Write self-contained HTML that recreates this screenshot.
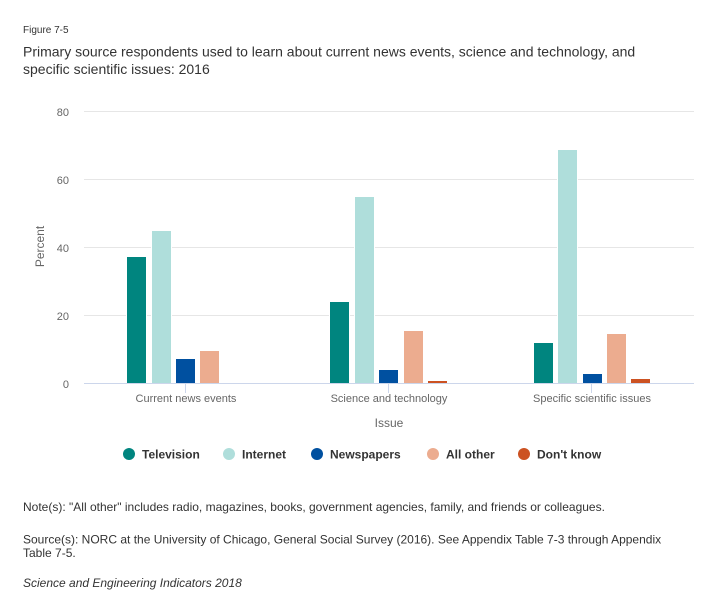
<!DOCTYPE html>
<html>
<head>
<meta charset="utf-8">
<style>
html,body{margin:0;padding:0;background:#fff;}
body{width:724px;height:616px;overflow:hidden;}
svg{display:block;font-family:"Liberation Sans",Arial,sans-serif;}
</style>
</head>
<body>
<svg width="724" height="616" viewBox="0 0 724 616" xmlns="http://www.w3.org/2000/svg">
  <rect width="724" height="616" fill="#fff"/>
  <text x="23" y="33" font-size="10" fill="#333">Figure 7-5</text>
  <text x="23" y="56.5" font-size="14" fill="#333">Primary source respondents used to learn about current news events, science and technology, and</text>
  <text x="23" y="74" font-size="14" fill="#333">specific scientific issues: 2016</text>

  <!-- gridlines -->
  <g stroke="#e6e6e6" stroke-width="1">
    <line x1="84" y1="111.5" x2="694" y2="111.5"/>
    <line x1="84" y1="179.5" x2="694" y2="179.5"/>
    <line x1="84" y1="247.5" x2="694" y2="247.5"/>
    <line x1="84" y1="315.5" x2="694" y2="315.5"/>
  </g>

  <!-- y labels -->
  <g font-size="11" fill="#666" text-anchor="end">
    <text x="69" y="116">80</text>
    <text x="69" y="184">60</text>
    <text x="69" y="252">40</text>
    <text x="69" y="320">20</text>
    <text x="69" y="388">0</text>
  </g>
  <text transform="translate(44,246.5) rotate(-90)" font-size="12" fill="#666" text-anchor="middle">Percent</text>

  <!-- bars -->
  <g stroke="#fff" stroke-width="1">
    <!-- group 1 -->
    <rect x="126.5" y="256.5" width="20" height="127" fill="#00857f"/>
    <rect x="151.5" y="230.5" width="20" height="153" fill="#afdedb"/>
    <rect x="175.5" y="358.5" width="20" height="25" fill="#0050a0"/>
    <rect x="199.5" y="350.5" width="20" height="33" fill="#ecac8f"/>
    <!-- group 2 -->
    <rect x="329.5" y="301.5" width="20" height="82" fill="#00857f"/>
    <rect x="354.5" y="196.5" width="20" height="187" fill="#afdedb"/>
    <rect x="378.5" y="369.5" width="20" height="14" fill="#0050a0"/>
    <rect x="403.5" y="330.5" width="20" height="53" fill="#ecac8f"/>
    <rect x="427.5" y="380.5" width="20" height="3" fill="#cc5222"/>
    <!-- group 3 -->
    <rect x="533.5" y="342.5" width="20" height="41" fill="#00857f"/>
    <rect x="557.5" y="149.5" width="20" height="234" fill="#afdedb"/>
    <rect x="582.5" y="373.5" width="20" height="10" fill="#0050a0"/>
    <rect x="606.5" y="333.5" width="20" height="50" fill="#ecac8f"/>
    <rect x="630.5" y="378.5" width="20" height="5" fill="#cc5222"/>
  </g>

  <!-- x axis -->
  <line x1="84" y1="383.5" x2="694" y2="383.5" stroke="#ccd6eb" stroke-width="1"/>
  <g stroke="#ccd6eb" stroke-width="1">
    <line x1="185.5" y1="383" x2="185.5" y2="393"/>
    <line x1="388.5" y1="383" x2="388.5" y2="393"/>
    <line x1="591.5" y1="383" x2="591.5" y2="393"/>
  </g>
  <g font-size="11" fill="#666" text-anchor="middle">
    <text x="186" y="402">Current news events</text>
    <text x="389" y="402">Science and technology</text>
    <text x="592" y="402">Specific scientific issues</text>
  </g>
  <text x="389" y="427" font-size="12" fill="#666" text-anchor="middle">Issue</text>

  <!-- legend -->
  <g font-size="12" font-weight="bold" fill="#333">
    <circle cx="129" cy="454" r="6" fill="#00857f"/>
    <text x="142" y="458.5">Television</text>
    <circle cx="229" cy="454" r="6" fill="#afdedb"/>
    <text x="242" y="458.5">Internet</text>
    <circle cx="317" cy="454" r="6" fill="#0050a0"/>
    <text x="330" y="458.5">Newspapers</text>
    <circle cx="433" cy="454" r="6" fill="#ecac8f"/>
    <text x="446" y="458.5">All other</text>
    <circle cx="524" cy="454" r="6" fill="#cc5222"/>
    <text x="537" y="458.5">Don't know</text>
  </g>

  <!-- notes -->
  <g font-size="12" fill="#333">
    <text x="23" y="511">Note(s): "All other" includes radio, magazines, books, government agencies, family, and friends or colleagues.</text>
    <text x="23" y="543.5">Source(s): NORC at the University of Chicago, General Social Survey (2016). See Appendix Table 7-3 through Appendix</text>
    <text x="23" y="557">Table 7-5.</text>
    <text x="23" y="587" font-style="italic">Science and Engineering Indicators 2018</text>
  </g>
</svg>
</body>
</html>
